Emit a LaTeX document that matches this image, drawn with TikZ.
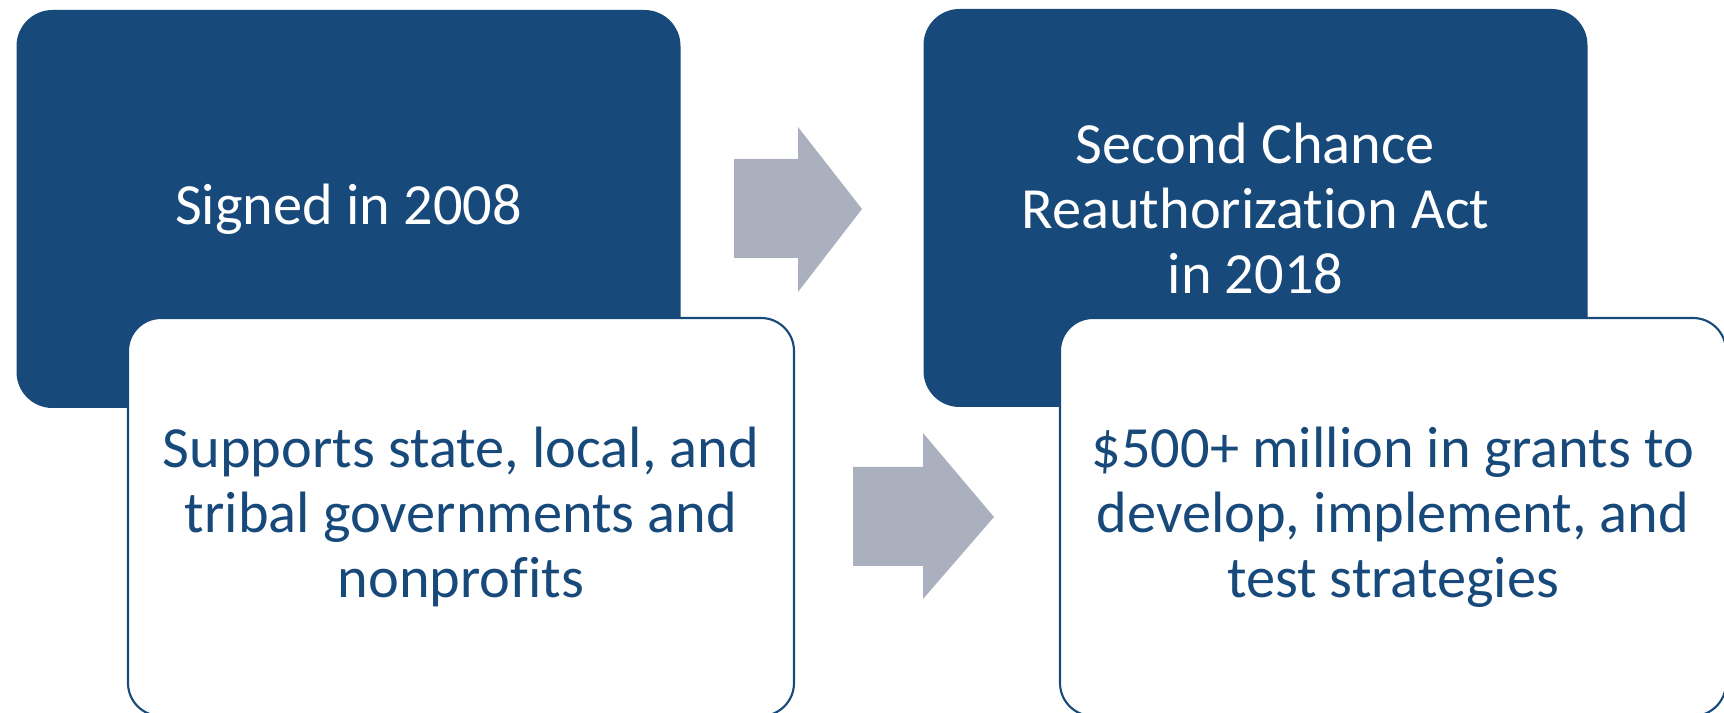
\documentclass[tikz,border=0pt]{standalone}
\usepackage{fontspec}
\setmainfont{Carlito}[Ligatures=NoCommon]
\usetikzlibrary{positioning}
\definecolor{actblue}{RGB}{23,73,122}
\definecolor{arrowgrey}{RGB}{170,176,189}

\begin{document}
\begin{tikzpicture}[x=0.1mm,y=-0.1mm,
    topbox/.style={fill=actblue,text=white,rounded corners=3.6mm,inner sep=0pt,
        minimum width=66.4mm,minimum height=39.8mm,align=center,
        font=\fontsize{16.6}{18.5}\selectfont},
    subbox/.style={draw=actblue,line width=0.6pt,fill=white,text=actblue,
        rounded corners=3.3mm,inner sep=0pt,
        minimum width=66.6mm,minimum height=39.8mm,align=center,
        font=\fontsize{16.6}{18.5}\selectfont},
    blockarrow/.style={fill=arrowgrey}]
    \clip (0,0) rectangle (1724,713);
    \node[topbox] (signed) at (348.5,209) {Signed in 2008};
    \node[topbox] (reauth) at (1255.5,208) {Second Chance\\Reauthorization Act\\in 2018};

    \node[subbox] (supports) at (461,517) {Supports state, local, and\\tribal governments and\\nonprofits};
    \node[subbox] (grants) at (1393,517) {\$500+ million in grants to\\develop, implement, and\\test strategies};

    \fill[blockarrow] (734,159) -- (798,159) -- (798,127) -- (862,209) -- (798,292) -- (798,258) -- (734,258) -- cycle;
    \fill[blockarrow] (853,467) -- (923,467) -- (923,433) -- (994,517) -- (923,599) -- (923,566) -- (853,566) -- cycle;
\end{tikzpicture}
\end{document}
